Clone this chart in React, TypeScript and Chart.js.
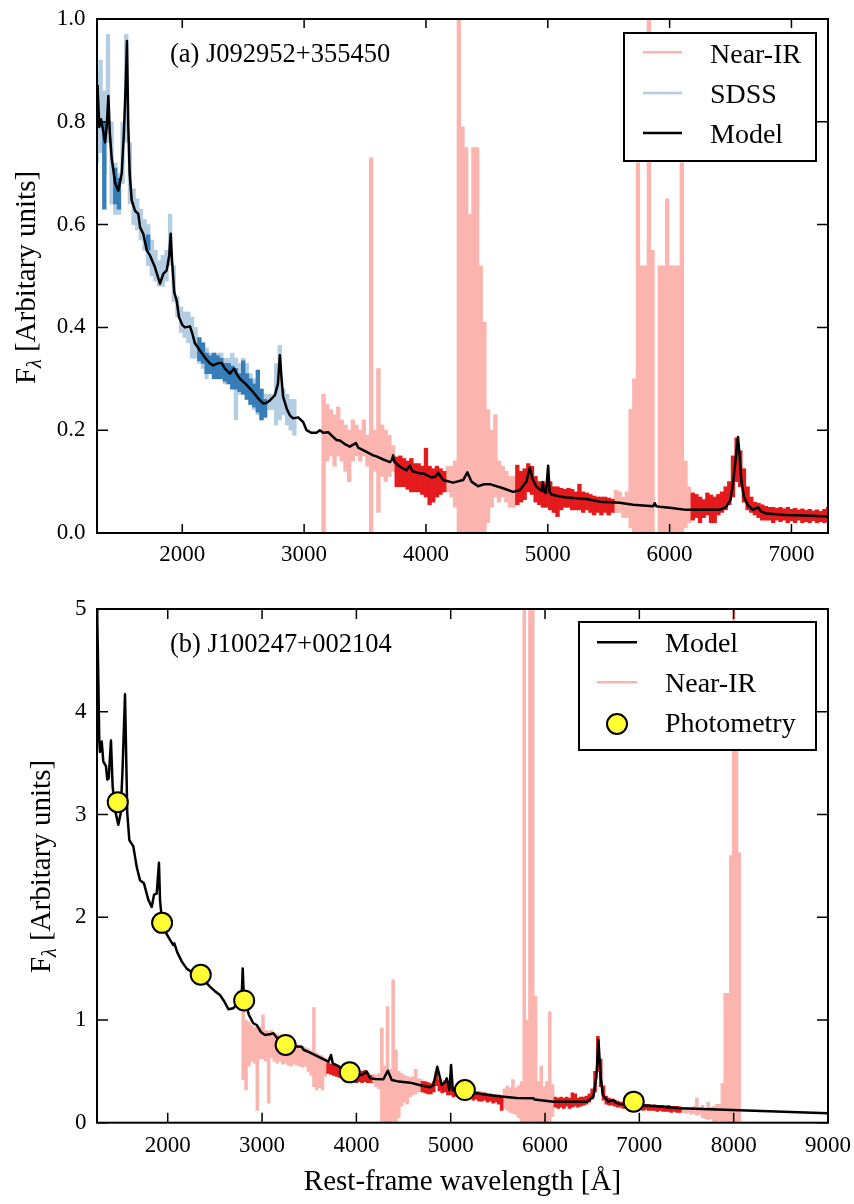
import React, { useEffect, useRef } from "react";
import { Chart, registerables } from "chart.js";

Chart.register(...registerables);

type Bin = [number, number, number]; // wavelength, low flux, high flux within the bin
type Pt = [number, number];

const SERIF = "'Liberation Serif', 'Times New Roman', serif";
const PINK = "#fbb4ae";
const RED = "#e41a1c";
const LIGHT_BLUE = "#b3cde3";
const DARK_BLUE = "#377eb8";
const YELLOW = "#ffff33";

const yTitleText = " [Arbitary units]";
const xTitleText = "Rest-frame wavelength [Å]";

// ---------------- Panel (a) J092952+355450 ----------------
const panelALabel = "(a) J092952+355450";
const panelAXTicks = [2000, 3000, 4000, 5000, 6000, 7000];
const panelAYTicks = [0, 0.2, 0.4, 0.6, 0.8, 1.0];
const panelALegend = ["Near-IR", "SDSS", "Model"];

const panelAModel: Pt[] = [
  [1300, 0.87], [1306, 0.86], [1319, 0.79], [1333, 0.805], [1352, 0.78], [1366, 0.76], [1380, 0.79],
  [1393, 0.85], [1405, 0.78], [1420, 0.73], [1448, 0.682], [1475, 0.666], [1503, 0.7], [1521, 0.78],
  [1535, 0.87], [1546, 0.957], [1556, 0.8], [1568, 0.7], [1585, 0.647], [1612, 0.627], [1639, 0.621],
  [1653, 0.595], [1680, 0.582], [1708, 0.55], [1735, 0.54], [1776, 0.517], [1817, 0.485], [1844, 0.504],
  [1872, 0.511], [1893, 0.54], [1905, 0.582], [1916, 0.53], [1934, 0.468], [1954, 0.452], [1973, 0.42],
  [2000, 0.405], [2022, 0.4], [2063, 0.402], [2080, 0.39], [2104, 0.369], [2145, 0.355], [2190, 0.34],
  [2227, 0.33], [2254, 0.326], [2290, 0.33], [2323, 0.331], [2350, 0.32], [2391, 0.31], [2426, 0.32],
  [2445, 0.31], [2473, 0.3], [2520, 0.29], [2582, 0.274], [2630, 0.26], [2664, 0.252], [2690, 0.253],
  [2719, 0.258], [2760, 0.268], [2785, 0.29], [2801, 0.346], [2815, 0.3], [2828, 0.265], [2860, 0.24],
  [2883, 0.229], [2910, 0.223], [2951, 0.225], [2992, 0.216], [3020, 0.2], [3060, 0.195], [3102, 0.195],
  [3129, 0.2], [3157, 0.195], [3198, 0.196], [3238, 0.187], [3266, 0.181], [3293, 0.18], [3334, 0.173],
  [3375, 0.168], [3425, 0.175], [3444, 0.166], [3512, 0.158], [3567, 0.151], [3594, 0.149], [3650, 0.143],
  [3704, 0.138], [3720, 0.142], [3731, 0.151], [3742, 0.138], [3786, 0.129], [3841, 0.122], [3868, 0.131],
  [3890, 0.12], [3950, 0.116], [3977, 0.116], [4046, 0.108], [4080, 0.11], [4100, 0.117], [4141, 0.103],
  [4223, 0.098], [4305, 0.103], [4340, 0.118], [4373, 0.1], [4428, 0.091], [4480, 0.095], [4524, 0.095],
  [4633, 0.087], [4715, 0.08], [4770, 0.083], [4825, 0.1], [4852, 0.127], [4875, 0.105], [4907, 0.09],
  [4948, 0.082], [4958, 0.099], [4970, 0.08], [4985, 0.078], [5003, 0.131], [5015, 0.08], [5030, 0.075],
  [5100, 0.071], [5153, 0.069], [5262, 0.067], [5317, 0.066], [5426, 0.061], [5590, 0.059], [5700, 0.055],
  [5864, 0.052], [5878, 0.058], [5892, 0.052], [5919, 0.051], [6000, 0.049], [6137, 0.045], [6300, 0.045],
  [6411, 0.045], [6465, 0.051], [6500, 0.065], [6520, 0.096], [6545, 0.15], [6561, 0.187], [6575, 0.15],
  [6588, 0.103], [6610, 0.07], [6643, 0.054], [6684, 0.045], [6725, 0.05], [6750, 0.042], [6794, 0.038],
  [6958, 0.035], [7100, 0.034], [7300, 0.032],
];

const panelASdss: Bin[] = [
  [1300, 0.72, 0.9], [1330, 0.74, 0.92], [1360, 0.7, 0.86], [1390, 0.76, 0.97], [1420, 0.64, 0.8],
  [1450, 0.62, 0.72], [1480, 0.62, 0.7], [1510, 0.68, 0.8], [1540, 0.76, 0.97], [1570, 0.64, 0.76],
  [1600, 0.6, 0.67], [1630, 0.59, 0.65], [1660, 0.57, 0.63], [1690, 0.55, 0.61], [1720, 0.52, 0.6],
  [1750, 0.5, 0.57], [1780, 0.49, 0.55], [1810, 0.48, 0.53], [1840, 0.48, 0.54], [1870, 0.49, 0.55],
  [1900, 0.52, 0.62], [1930, 0.45, 0.52], [1960, 0.42, 0.46], [1990, 0.39, 0.44], [2020, 0.38, 0.43],
  [2050, 0.37, 0.43], [2080, 0.34, 0.42], [2110, 0.34, 0.4], [2140, 0.33, 0.38], [2170, 0.32, 0.37],
  [2200, 0.3, 0.36], [2230, 0.31, 0.35], [2260, 0.3, 0.35], [2290, 0.3, 0.35], [2320, 0.3, 0.35],
  [2350, 0.29, 0.34], [2380, 0.29, 0.34], [2410, 0.28, 0.35], [2440, 0.22, 0.34], [2470, 0.27, 0.33],
  [2500, 0.27, 0.34], [2530, 0.26, 0.33], [2560, 0.25, 0.31], [2590, 0.24, 0.3], [2620, 0.23, 0.3],
  [2650, 0.22, 0.28], [2680, 0.23, 0.27], [2710, 0.24, 0.27], [2740, 0.24, 0.27], [2770, 0.21, 0.33],
  [2800, 0.22, 0.365], [2830, 0.23, 0.28], [2860, 0.21, 0.27], [2890, 0.2, 0.26], [2920, 0.19, 0.26],
];

const panelASdssHiSN: Bin[] = [
  [1360, 0.63, 0.8], [1450, 0.64, 0.71], [1480, 0.63, 0.69], [1720, 0.55, 0.58],
  [2140, 0.335, 0.38], [2170, 0.33, 0.37], [2200, 0.31, 0.35], [2230, 0.31, 0.345], [2260, 0.3, 0.35],
  [2290, 0.3, 0.345], [2320, 0.3, 0.34], [2350, 0.295, 0.33], [2380, 0.29, 0.33], [2410, 0.28, 0.325],
  [2440, 0.28, 0.32], [2470, 0.275, 0.31], [2500, 0.27, 0.335], [2530, 0.26, 0.31], [2560, 0.25, 0.3],
  [2590, 0.245, 0.29], [2620, 0.235, 0.317], [2650, 0.22, 0.28], [2680, 0.225, 0.26],
];

const panelANir: Bin[] = [
  [3160, 0.0, 0.27], [3190, 0.14, 0.25], [3220, 0.15, 0.24], [3250, 0.13, 0.23], [3280, 0.15, 0.245],
  [3310, 0.14, 0.22], [3340, 0.12, 0.21], [3370, 0.1, 0.2], [3400, 0.14, 0.22], [3430, 0.15, 0.21],
  [3460, 0.14, 0.2], [3490, 0.15, 0.22], [3520, 0.13, 0.19], [3550, 0.0, 0.73], [3580, 0.12, 0.2],
  [3610, 0.04, 0.32], [3640, 0.11, 0.21], [3670, 0.1, 0.2], [3700, 0.11, 0.19], [3730, 0.12, 0.17],
  [4180, 0.08, 0.13], [4210, 0.07, 0.13], [4240, 0.05, 0.14], [4270, 0.0, 1.1], [4300, 0.0, 0.79],
  [4330, 0.0, 0.75], [4360, 0.0, 0.62], [4390, 0.0, 0.75], [4420, 0.0, 0.75], [4450, 0.0, 0.52],
  [4480, 0.0, 0.41], [4510, 0.02, 0.24], [4540, 0.05, 0.2], [4570, 0.07, 0.23], [4600, 0.06, 0.14],
  [4630, 0.07, 0.13], [4660, 0.06, 0.12], [4690, 0.05, 0.11], [4720, 0.05, 0.11],
  [5560, 0.04, 0.083], [5590, 0.04, 0.08], [5620, 0.03, 0.07], [5650, 0.03, 0.08], [5680, 0.01, 0.24],
  [5710, 0.0, 0.3], [5740, 0.0, 0.72], [5770, 0.0, 0.52], [5800, 0.0, 0.52], [5830, 0.0, 1.1],
  [5860, 0.0, 0.55], [5920, 0.0, 0.52], [5950, 0.0, 0.52], [5980, 0.0, 0.65], [6010, 0.0, 0.52],
  [6040, 0.0, 0.52], [6070, 0.0, 0.52], [6100, 0.0, 0.72], [6130, 0.01, 0.14], [6160, 0.02, 0.09],
];

const panelANirHiSN: Bin[] = [
  [3760, 0.09, 0.148], [3790, 0.09, 0.15], [3820, 0.09, 0.145], [3850, 0.085, 0.14], [3880, 0.08, 0.145],
  [3910, 0.08, 0.135], [3940, 0.08, 0.135], [3970, 0.075, 0.13], [4000, 0.07, 0.165], [4030, 0.055, 0.13],
  [4060, 0.06, 0.125], [4090, 0.07, 0.13], [4120, 0.075, 0.125], [4150, 0.08, 0.12],
  [4750, 0.055, 0.132], [4780, 0.06, 0.12], [4810, 0.065, 0.125], [4840, 0.08, 0.135], [4870, 0.075, 0.13],
  [4900, 0.06, 0.11], [4930, 0.055, 0.1], [4960, 0.05, 0.1], [4990, 0.05, 0.095], [5020, 0.045, 0.1],
  [5050, 0.04, 0.09], [5080, 0.032, 0.09], [5110, 0.045, 0.087], [5140, 0.05, 0.085], [5170, 0.05, 0.087],
  [5200, 0.045, 0.085], [5230, 0.045, 0.08], [5260, 0.045, 0.095], [5290, 0.04, 0.08], [5320, 0.045, 0.078],
  [5350, 0.04, 0.075], [5380, 0.035, 0.072], [5410, 0.04, 0.07], [5440, 0.035, 0.07], [5470, 0.04, 0.07],
  [5500, 0.035, 0.068], [5530, 0.04, 0.066],
  [6190, 0.025, 0.078], [6220, 0.03, 0.075], [6250, 0.02, 0.07], [6280, 0.03, 0.065], [6310, 0.035, 0.078],
  [6340, 0.02, 0.074], [6370, 0.02, 0.07], [6400, 0.035, 0.075], [6430, 0.04, 0.08], [6460, 0.045, 0.09],
  [6490, 0.055, 0.1], [6520, 0.07, 0.15], [6550, 0.1, 0.185], [6580, 0.09, 0.16], [6610, 0.06, 0.125],
  [6640, 0.045, 0.09], [6670, 0.04, 0.07], [6700, 0.035, 0.06], [6730, 0.03, 0.058], [6760, 0.025, 0.055],
  [6790, 0.025, 0.052], [6820, 0.025, 0.05], [6850, 0.02, 0.05], [6880, 0.025, 0.048], [6910, 0.022, 0.05],
  [6940, 0.025, 0.047], [6970, 0.02, 0.05], [7000, 0.024, 0.046], [7030, 0.02, 0.048], [7060, 0.025, 0.045],
  [7090, 0.02, 0.047], [7120, 0.022, 0.044], [7150, 0.02, 0.046], [7180, 0.024, 0.043], [7210, 0.02, 0.045],
  [7240, 0.022, 0.042], [7270, 0.02, 0.046], [7300, 0.022, 0.05],
];

// ---------------- Panel (b) J100247+002104 ----------------
const panelBLabel = "(b) J100247+002104";
const panelBXTicks = [2000, 3000, 4000, 5000, 6000, 7000, 8000, 9000];
const panelBYTicks = [0, 1, 2, 3, 4, 5];
const panelBLegend = ["Model", "Near-IR", "Photometry"];

const panelBModel: Pt[] = [
  [1250, 5.05], [1253, 4.9], [1264, 4.31], [1274, 3.72], [1282, 3.61], [1300, 3.71], [1317, 3.515],
  [1345, 3.47], [1359, 3.34], [1374, 3.35], [1398, 3.72], [1416, 3.27], [1441, 3.045], [1476, 2.9],
  [1501, 3.01], [1522, 3.47], [1547, 4.17], [1571, 3.01], [1593, 2.75], [1635, 2.69], [1671, 2.49],
  [1706, 2.36], [1748, 2.33], [1794, 2.17], [1830, 2.1], [1855, 2.22], [1883, 2.23], [1907, 2.53],
  [1918, 2.17], [1940, 1.95], [1980, 1.85], [2024, 1.78], [2059, 1.73], [2070, 1.745], [2100, 1.66],
  [2148, 1.57], [2201, 1.5], [2250, 1.47], [2300, 1.455], [2342, 1.44], [2400, 1.37], [2448, 1.325],
  [2500, 1.28], [2554, 1.243], [2600, 1.18], [2643, 1.104], [2695, 1.114], [2766, 1.195], [2785, 1.25],
  [2795, 1.5], [2805, 1.25], [2819, 1.195], [2860, 1.05], [2907, 0.968], [2943, 0.951], [2990, 0.88],
  [3031, 0.854], [3080, 0.86], [3120, 0.87], [3180, 0.8], [3244, 0.757], [3300, 0.745], [3421, 0.74],
  [3440, 0.71], [3509, 0.682], [3600, 0.64], [3703, 0.594], [3731, 0.659], [3749, 0.578], [3800, 0.555],
  [3860, 0.52], [3933, 0.49], [4000, 0.47], [4057, 0.464], [4110, 0.497], [4145, 0.432], [4200, 0.425],
  [4286, 0.423], [4333, 0.506], [4375, 0.416], [4450, 0.4], [4569, 0.39], [4700, 0.36], [4781, 0.345],
  [4816, 0.367], [4858, 0.545], [4905, 0.367], [4945, 0.4], [4958, 0.432], [4986, 0.318], [5004, 0.562],
  [5022, 0.318], [5100, 0.3], [5276, 0.286], [5400, 0.27], [5559, 0.253], [5700, 0.24], [5877, 0.238],
  [5890, 0.225], [6089, 0.205], [6300, 0.205], [6443, 0.205], [6513, 0.253], [6545, 0.45], [6566, 0.805],
  [6590, 0.45], [6612, 0.27], [6672, 0.205], [6725, 0.221], [6750, 0.195], [6796, 0.182], [7000, 0.17],
  [7149, 0.163], [7432, 0.14], [9000, 0.092],
];

const panelBNir: Bin[] = [
  [2800, 0.42, 1.16], [2830, 0.32, 1.0], [2860, 0.55, 0.98], [2890, 0.6, 0.95], [2920, 0.58, 0.93],
  [2950, 0.12, 0.92], [2980, 0.62, 0.93], [3010, 0.62, 1.05], [3040, 0.6, 0.9], [3070, 0.19, 0.89],
  [3100, 0.63, 0.9], [3130, 0.6, 0.87], [3160, 0.58, 0.86], [3190, 0.6, 0.84], [3220, 0.57, 0.82],
  [3250, 0.58, 0.8], [3280, 0.56, 0.79], [3310, 0.55, 0.78], [3340, 0.57, 0.77], [3370, 0.56, 0.76],
  [3400, 0.55, 0.75], [3430, 0.54, 0.74], [3460, 0.55, 0.73], [3490, 0.5, 0.72], [3520, 0.46, 0.7],
  [3550, 0.35, 1.12], [3580, 0.32, 0.68], [3610, 0.34, 0.66], [3640, 0.32, 0.65], [3670, 0.45, 0.63],
  [4180, 0.38, 0.47], [4210, 0.35, 0.46], [4240, 0.33, 0.48], [4270, 0.0, 0.92], [4300, 0.0, 0.55],
  [4330, 0.0, 1.13], [4360, 0.0, 0.52], [4390, 0.0, 1.39], [4420, 0.0, 0.71], [4450, 0.05, 0.5],
  [4480, 0.16, 0.48], [4510, 0.2, 0.46], [4540, 0.18, 0.45], [4570, 0.25, 0.44], [4600, 0.27, 0.45],
  [4630, 0.28, 0.52], [4660, 0.3, 0.43], [4690, 0.3, 0.42],
  [5570, 0.14, 0.33], [5600, 0.12, 0.36], [5630, 0.1, 0.34], [5660, 0.09, 0.42], [5690, 0.08, 0.34],
  [5720, 0.05, 0.36], [5750, 0.0, 0.4], [5780, 0.0, 5.5], [5810, 0.0, 1.0], [5840, 0.0, 5.5],
  [5870, 0.0, 5.5], [5900, 0.0, 1.23], [5930, 0.0, 0.4], [5960, 0.0, 0.55], [5990, 0.0, 0.35],
  [6020, 0.0, 0.4], [6050, 0.0, 1.08], [6080, 0.06, 0.37],
  [7460, 0.1, 0.15], [7490, 0.09, 0.15], [7520, 0.1, 0.14], [7550, 0.08, 0.15], [7580, 0.09, 0.16],
  [7610, 0.07, 0.24], [7640, 0.08, 0.15], [7670, 0.05, 0.17], [7700, 0.04, 0.14], [7730, 0.03, 0.2],
  [7760, 0.04, 0.15], [7790, 0.0, 0.16], [7820, 0.0, 0.18], [7850, 0.02, 0.18], [7880, 0.0, 0.38],
  [7910, 0.0, 1.26], [7940, 0.0, 1.26], [7970, 0.0, 2.6], [8000, 0.0, 5.5], [8030, 0.0, 3.63],
  [8060, 0.0, 2.63],
];

const panelBNirHiSN: Bin[] = [
  [3700, 0.48, 0.58], [3730, 0.47, 0.57], [3760, 0.46, 0.56], [3790, 0.45, 0.55], [3820, 0.44, 0.54],
  [3850, 0.43, 0.53], [3880, 0.42, 0.52], [3910, 0.42, 0.51], [3940, 0.41, 0.5], [3970, 0.4, 0.49],
  [4000, 0.39, 0.49], [4030, 0.4, 0.48], [4060, 0.39, 0.5], [4090, 0.4, 0.51], [4120, 0.39, 0.48],
  [4150, 0.39, 0.46],
  [4700, 0.3, 0.4], [4730, 0.29, 0.4], [4760, 0.28, 0.39], [4790, 0.28, 0.38], [4820, 0.3, 0.4],
  [4850, 0.36, 0.5], [4880, 0.31, 0.42], [4910, 0.29, 0.38], [4940, 0.3, 0.41], [4970, 0.27, 0.37],
  [5000, 0.27, 0.4], [5030, 0.25, 0.34], [5060, 0.26, 0.34], [5090, 0.25, 0.33], [5120, 0.24, 0.33],
  [5150, 0.24, 0.32], [5180, 0.23, 0.32], [5210, 0.24, 0.31], [5240, 0.22, 0.31], [5270, 0.23, 0.3],
  [5300, 0.21, 0.3], [5330, 0.21, 0.29], [5360, 0.22, 0.29], [5390, 0.2, 0.28], [5420, 0.21, 0.28],
  [5450, 0.19, 0.27], [5480, 0.2, 0.27], [5510, 0.18, 0.27], [5540, 0.12, 0.26],
  [6110, 0.15, 0.25], [6140, 0.14, 0.24], [6170, 0.15, 0.25], [6200, 0.14, 0.24], [6230, 0.16, 0.25],
  [6260, 0.14, 0.24], [6290, 0.15, 0.29], [6320, 0.16, 0.28], [6350, 0.15, 0.24], [6380, 0.16, 0.25],
  [6410, 0.17, 0.25], [6440, 0.18, 0.26], [6470, 0.2, 0.28], [6500, 0.23, 0.33], [6530, 0.3, 0.5],
  [6560, 0.5, 0.84], [6590, 0.35, 0.62], [6620, 0.22, 0.36], [6650, 0.18, 0.26], [6680, 0.17, 0.24],
  [6710, 0.17, 0.23], [6740, 0.16, 0.22], [6770, 0.15, 0.21], [6800, 0.15, 0.2], [6830, 0.14, 0.2],
  [6860, 0.14, 0.2], [6890, 0.14, 0.19], [6920, 0.13, 0.19], [6950, 0.13, 0.19], [6980, 0.13, 0.19],
  [7010, 0.13, 0.18], [7040, 0.12, 0.18], [7070, 0.13, 0.18], [7100, 0.12, 0.18], [7130, 0.12, 0.17],
  [7160, 0.12, 0.175], [7190, 0.11, 0.17], [7220, 0.12, 0.17], [7250, 0.11, 0.17], [7280, 0.11, 0.165],
  [7310, 0.11, 0.17], [7340, 0.1, 0.16], [7370, 0.11, 0.16], [7400, 0.1, 0.16], [7430, 0.1, 0.155],
];

const panelBPhotWave = [1470, 1940, 2350, 2810, 3250, 3930, 5150, 6940];
const panelBPhotFlux = [3.12, 1.945, 1.44, 1.19, 0.757, 0.49, 0.318, 0.205];

// ---------------- helpers ----------------
interface LegendRow { label: string; kind: "line" | "marker"; color: string; lineY: number; textY: number }
interface Panel {
  width: number; height: number;
  area: { left: number; top: number; right: number; bottom: number };
  xMin: number; xMax: number; yMin: number; yMax: number;
  xTicks: number[]; yTicks: number[]; yDigits: number;
  xTickPad: number; yTickPad: number; xTickLen: number; yTickLen: number;
  yTitleX: number; yTitleY: number;
  xTitle: string | null;
  label: string; labelX: number; labelY: number;
  legendBox: [number, number, number, number];
  legendLineX: [number, number]; legendTextX: number;
  legendRows: LegendRow[];
  datasets: any[];
}

const MODEL_WIDTH = 2.5;
const MARKER_RADIUS = 10;

const bars = (label: string, bins: Bin[], color: string, thickness: number, order: number) => ({
  type: "bar",
  label,
  data: bins.map(([x, lo, hi]) => ({ x, y: [lo, hi] })),
  backgroundColor: color,
  borderWidth: 0,
  barThickness: thickness,
  grouped: false,
  order,
});

const line = (label: string, pts: Pt[], order: number) => ({
  type: "line",
  label,
  data: pts.map(([x, y]) => ({ x, y })),
  borderColor: "#000",
  borderWidth: MODEL_WIDTH,
  borderJoinStyle: "round",
  pointRadius: 0,
  tension: 0,
  fill: false,
  order,
});

function buildConfig(p: Panel): any {
  const decor = {
    id: "decor",
    afterDatasetsDraw(chart: any) {
      const { ctx, chartArea: a } = chart;
      const xs = chart.scales.x;
      const ys = chart.scales.y;
      ctx.save();
      ctx.strokeStyle = "#000";
      ctx.lineWidth = 1.5;
      ctx.beginPath();
      p.xTicks.forEach((v) => {
        const px = xs.getPixelForValue(v);
        ctx.moveTo(px, a.bottom);
        ctx.lineTo(px, a.bottom - p.xTickLen);
        ctx.moveTo(px, a.top);
        ctx.lineTo(px, a.top + p.xTickLen);
      });
      p.yTicks.forEach((v) => {
        const py = ys.getPixelForValue(v);
        ctx.moveTo(a.left, py);
        ctx.lineTo(a.left + p.yTickLen, py);
        ctx.moveTo(a.right, py);
        ctx.lineTo(a.right - p.yTickLen, py);
      });
      ctx.stroke();
      ctx.lineWidth = 2;
      ctx.strokeRect(a.left, a.top, a.right - a.left, a.bottom - a.top);
      ctx.restore();
    },
    afterDraw(chart: any) {
      const { ctx } = chart;
      ctx.save();
      // panel label
      ctx.fillStyle = "#000";
      ctx.font = `26.5px ${SERIF}`;
      ctx.textAlign = "left";
      ctx.textBaseline = "alphabetic";
      ctx.fillText(p.label, p.labelX, p.labelY);

      // legend
      const [bx1, by1, bx2, by2] = p.legendBox;
      ctx.fillStyle = "#fff";
      ctx.fillRect(bx1, by1, bx2 - bx1, by2 - by1);
      ctx.strokeStyle = "#000";
      ctx.lineWidth = 2;
      ctx.strokeRect(bx1, by1, bx2 - bx1, by2 - by1);
      p.legendRows.forEach((r) => {
        if (r.kind === "line") {
          ctx.strokeStyle = r.color;
          ctx.lineWidth = MODEL_WIDTH;
          ctx.beginPath();
          ctx.moveTo(p.legendLineX[0], r.lineY);
          ctx.lineTo(p.legendLineX[1], r.lineY);
          ctx.stroke();
        } else {
          ctx.beginPath();
          ctx.arc((p.legendLineX[0] + p.legendLineX[1]) / 2, r.lineY, MARKER_RADIUS, 0, Math.PI * 2);
          ctx.fillStyle = r.color;
          ctx.fill();
          ctx.strokeStyle = "#000";
          ctx.lineWidth = 2;
          ctx.stroke();
        }
        ctx.fillStyle = "#000";
        ctx.font = `28px ${SERIF}`;
        ctx.textAlign = "left";
        ctx.textBaseline = "alphabetic";
        ctx.fillText(r.label, p.legendTextX, r.textY);
      });

      // y-axis title with subscript lambda
      ctx.translate(p.yTitleX, p.yTitleY);
      ctx.rotate(-Math.PI / 2);
      const big = `29px ${SERIF}`;
      const small = `italic 20px ${SERIF}`;
      ctx.font = big;
      const wF = ctx.measureText("F").width;
      const wR = ctx.measureText(yTitleText).width;
      ctx.font = small;
      const wL = ctx.measureText("λ").width;
      const x0 = -(wF + wL + wR) / 2;
      ctx.fillStyle = "#000";
      ctx.textAlign = "left";
      ctx.textBaseline = "alphabetic";
      ctx.font = big;
      ctx.fillText("F", x0, 0);
      ctx.font = small;
      ctx.fillText("λ", x0 + wF, 6);
      ctx.font = big;
      ctx.fillText(yTitleText, x0 + wF + wL, 0);
      ctx.restore();
    },
  };

  return {
    type: "line",
    data: { datasets: p.datasets },
    options: {
      responsive: false,
      animation: false,
      devicePixelRatio: 1,
      events: [],
      layout: { padding: { left: 0, top: p.area.top, right: p.width - p.area.right, bottom: 0 } },
      plugins: { legend: { display: false }, tooltip: { enabled: false }, title: { display: false } },
      scales: {
        x: {
          type: "linear",
          min: p.xMin,
          max: p.xMax,
          offset: false,
          grid: { display: false, drawTicks: false },
          border: { display: false },
          ticks: {
            font: { family: SERIF, size: 23 },
            color: "#000",
            padding: p.xTickPad,
            maxRotation: 0,
            autoSkip: false,
            callback: (v: number) => String(v),
          },
          title: p.xTitle
            ? { display: true, text: p.xTitle, color: "#000", font: { family: SERIF, size: 29 }, padding: { top: 0, bottom: 4 } }
            : { display: false },
          afterBuildTicks: (s: any) => {
            s.ticks = p.xTicks.map((v) => ({ value: v }));
          },
          afterFit: (s: any) => {
            s.height = p.height - p.area.bottom;
            s.paddingLeft = 0;
            s.paddingRight = 0;
          },
        },
        y: {
          type: "linear",
          min: p.yMin,
          max: p.yMax,
          grid: { display: false, drawTicks: false },
          border: { display: false },
          ticks: {
            font: { family: SERIF, size: 23 },
            color: "#000",
            padding: p.yTickPad,
            autoSkip: false,
            callback: (v: number) => Number(v).toFixed(p.yDigits),
          },
          afterBuildTicks: (s: any) => {
            s.ticks = p.yTicks.map((v) => ({ value: v }));
          },
          afterFit: (s: any) => {
            s.width = p.area.left;
            s.paddingTop = 0;
            s.paddingBottom = 0;
          },
        },
      },
    },
    plugins: [decor],
  };
}

const panelA: Panel = {
  width: 854, height: 580,
  area: { left: 97, top: 19, right: 828, bottom: 533 },
  xMin: 1300, xMax: 7300, yMin: 0, yMax: 1.0,
  xTicks: panelAXTicks, yTicks: panelAYTicks, yDigits: 1,
  xTickPad: 8, yTickPad: 11.5, xTickLen: 9, yTickLen: 11,
  yTitleX: 35, yTitleY: 277.5,
  xTitle: null,
  label: panelALabel, labelX: 170, labelY: 61.7,
  legendBox: [624, 33, 816, 161],
  legendLineX: [643, 682], legendTextX: 710,
  legendRows: [
    { label: panelALegend[0], kind: "line", color: PINK, lineY: 52.3, textY: 63.3 },
    { label: panelALegend[1], kind: "line", color: LIGHT_BLUE, lineY: 93, textY: 103.3 },
    { label: panelALegend[2], kind: "line", color: "#000", lineY: 133, textY: 142.7 },
  ],
  datasets: [
    line(panelALegend[2], panelAModel, 1),
    bars("Near-IR (high S/N)", panelANirHiSN, RED, 3.7, 2),
    bars(panelALegend[0], panelANir, PINK, 3.7, 3),
    bars("SDSS (high S/N)", panelASdssHiSN, DARK_BLUE, 3.7, 2),
    bars(panelALegend[1], panelASdss, LIGHT_BLUE, 3.7, 3),
  ],
};

const panelB: Panel = {
  width: 854, height: 624,
  area: { left: 97, top: 29, right: 828, bottom: 542.7 },
  xMin: 1250, xMax: 9000, yMin: 0, yMax: 5,
  xTicks: panelBXTicks, yTicks: panelBYTicks, yDigits: 0,
  xTickPad: 9.3, yTickPad: 10.5, xTickLen: 10, yTickLen: 11,
  yTitleX: 49.5, yTitleY: 286.5,
  xTitle: xTitleText,
  label: panelBLabel, labelX: 170, labelY: 71.7,
  legendBox: [579, 42, 816, 170],
  legendLineX: [597, 637], legendTextX: 665,
  legendRows: [
    { label: panelBLegend[0], kind: "line", color: "#000", lineY: 62.3, textY: 72.3 },
    { label: panelBLegend[1], kind: "line", color: PINK, lineY: 102.3, textY: 112.3 },
    { label: panelBLegend[2], kind: "marker", color: YELLOW, lineY: 144, textY: 151.7 },
  ],
  datasets: [
    {
      type: "scatter",
      label: panelBLegend[2],
      data: panelBPhotWave.map((x, i) => ({ x, y: panelBPhotFlux[i] })),
      pointRadius: MARKER_RADIUS,
      pointBackgroundColor: YELLOW,
      pointBorderColor: "#000",
      pointBorderWidth: 2,
      showLine: false,
      order: 0,
    },
    line(panelBLegend[0], panelBModel, 1),
    bars("Near-IR (high S/N)", panelBNirHiSN, RED, 2.9, 2),
    bars(panelBLegend[1], panelBNir, PINK, 2.9, 3),
  ],
};

export default function App() {
  const topRef = useRef<HTMLCanvasElement>(null);
  const botRef = useRef<HTMLCanvasElement>(null);
  useEffect(() => {
    const c1 = new Chart(topRef.current as HTMLCanvasElement, buildConfig(panelA));
    const c2 = new Chart(botRef.current as HTMLCanvasElement, buildConfig(panelB));
    return () => {
      c1.destroy();
      c2.destroy();
    };
  }, []);
  return (
    <div style={{ position: "absolute", left: 0, top: 0, width: 854, height: 1204, background: "#fff" }}>
      <canvas
        ref={topRef}
        width={854}
        height={580}
        style={{ position: "absolute", left: 0, top: 0, width: 854, height: 580, display: "block" }}
      />
      <canvas
        ref={botRef}
        width={854}
        height={624}
        style={{ position: "absolute", left: 0, top: 580, width: 854, height: 624, display: "block" }}
      />
    </div>
  );
}
